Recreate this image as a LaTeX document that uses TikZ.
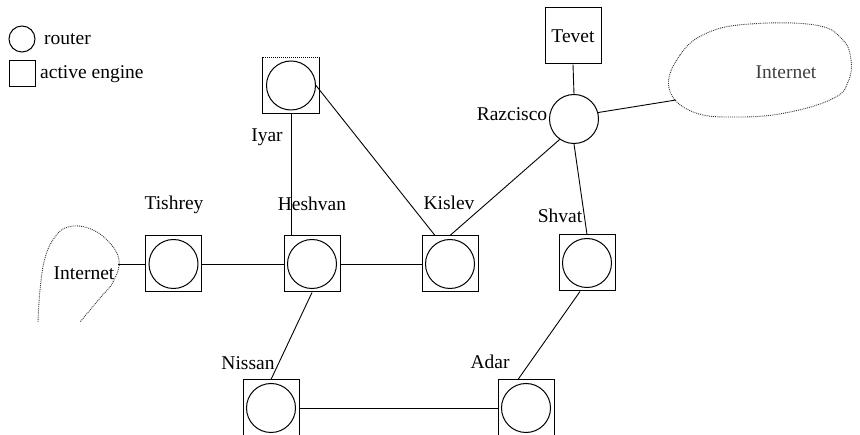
\documentclass[tikz,border=0pt]{standalone}
\usepackage{fontspec}
\setmainfont{Liberation Serif}
\usetikzlibrary{calc}
\begin{document}
\begin{tikzpicture}[x=1pt,y=-1pt,
  engine/.style={draw, line width=1pt, minimum size=56pt, inner sep=0pt},
  rtr/.style={draw, line width=1pt, circle, minimum size=49pt, inner sep=0pt},
  lbl/.style={font=\fontsize{19.5}{21}\selectfont, inner sep=0pt},
  link/.style={line width=0.9pt},
  cloudline/.style={densely dotted, line width=0.9pt, black!80}]
\useasboundingbox (0,0) rectangle (860,435);
\clip (0,0) rectangle (860,435);
% legend
\node[draw, circle, line width=1pt, minimum size=26pt, inner sep=0pt] (legc) at (22,39) {};
\node[lbl, anchor=west] (legct) at (44,39) {router};
\node[draw, line width=1pt, minimum size=26pt, inner sep=0pt] (legs) at (22,74) {};
\node[lbl, anchor=west] (legst) at (40,74) {active engine};
% clouds
\draw[cloudline] plot[smooth cycle, tension=0.7] coordinates {(669,88) (680,55) (707,33) (750,24) (815,25) (842,39) (851,60) (848,82) (834,98) (790,112) (740,117) (693,112)};
\node[lbl, text=black!75] (inetR) at (786,72) {Internet};
\draw[cloudline] plot[smooth, tension=0.7] coordinates {(38,322) (40,290) (45,258) (55,237) (68,227) (88,228) (107,240) (119,260) (113,282) (100,298) (80,322)};
\node[lbl] (inetL) at (84,273) {Internet};
\coordinate (cL) at (118,264);
\coordinate (cR) at (676,100);
% engines
\node[engine] (tish) at (173.5,264) {};
\node[rtr] (tishr) at (tish) {};
\node[engine] (hesh) at (312,264) {};
\node[rtr] (heshr) at (hesh) {};
\node[engine] (kis) at (450,264) {};
\node[rtr] (kisr) at (kis) {};
\node[engine] (shv) at (587,263) {};
\node[rtr] (shvr) at (shv) {};
\node[engine] (nis) at (271,408) {};
\node[rtr] (nisr) at (nis) {};
\node[engine] (adar) at (526,408) {};
\node[rtr] (adarr) at (adar) {};
\node[minimum size=56pt, inner sep=0pt] (iyar) at (291,85.5) {};
\draw[line width=1pt] (iyar.north west) -- (iyar.south west) -- (iyar.south east) -- (iyar.north east);
\draw[densely dotted, line width=1pt] (iyar.north west) -- (iyar.north east);
\node[rtr] (iyarr) at (iyar) {};
\node[rtr] (raz) at (574,119) {};
\node[engine, lbl] (tevet) at (573,36) {Tevet};
% labels
\node[lbl] (ltish) at (174,205) {Tishrey};
\node[lbl] (lhesh) at (312,204) {Heshvan};
\node[lbl] (lkis) at (449,203) {Kislev};
\node[lbl] (lshv) at (560,216) {Shvat};
\node[lbl] (liyar) at (267,137) {Iyar};
\node[lbl] (lraz) at (512,114) {Razcisco};
\node[lbl] (lnis) at (248,363) {Nissan};
\node[lbl] (ladar) at (490,362) {Adar};
% links
\draw[link] (cL) -- (tish.west);
\draw[link] (tish.east) -- (hesh.west);
\draw[link] (hesh.east) -- (kis.west);
\draw[link] (iyar.south) -- (iyar.south |- hesh.north);
\draw[link] (iyarr.east) -- ($(kis.north)+(-15,0)$);
\draw[link] (raz.235) -- (kis.north);
\draw[link] (raz.south) -- (shv.north);
\draw[link] (raz.15) -- (cR);
\draw[link] (tevet.south) -- (raz.north);
\draw[link] (hesh.south) -- (nis.north);
\draw[link] ($(shv.south)+(-7,0)$) -- ($(adar.north)+(-8,0)$);
\draw[link] (nis.east) -- (adar.west);
\end{tikzpicture}
\end{document}
